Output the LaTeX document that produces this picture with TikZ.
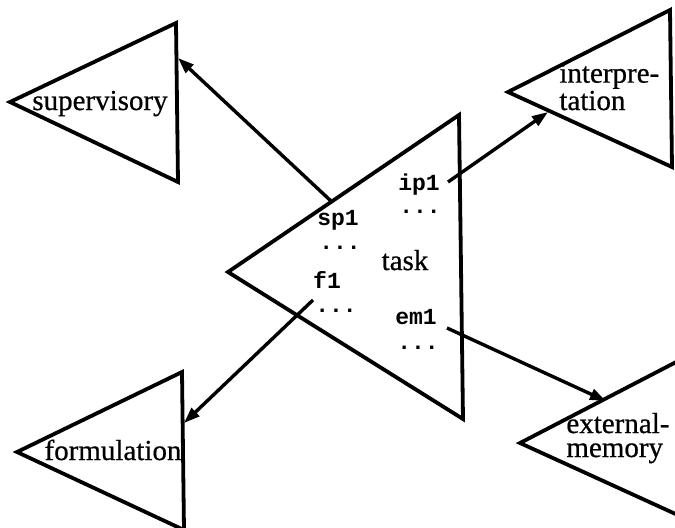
\documentclass[tikz,border=0pt]{standalone}
\usepackage{fontspec}
\setmainfont{Liberation Serif}
\setmonofont{Liberation Mono}
\newfontfamily\heavyserif[FakeBold=0.6]{Liberation Serif}
\usetikzlibrary{arrows.meta}
\begin{document}
\begin{tikzpicture}[x=0.5pt,y=-0.5pt,
  tri/.style={line width=1.9pt,line join=miter},
  conn/.style={line width=1.7pt,-{Triangle[length=8pt,width=5.5pt]}},
  lbl/.style={font=\heavyserif\fontsize{14.5}{12}\selectfont,inner sep=0pt},
  code/.style={font=\fontsize{11.5}{12}\selectfont\ttfamily\bfseries,inner sep=0pt,anchor=base}]
\useasboundingbox (0,0) rectangle (675,527);
% triangles
\draw[tri] (10,102) -- (176,23) -- (178,182) -- cycle;
\draw[tri] (508,92) -- (670,10) -- (672,167) -- cycle;
\draw[tri] (228,272) -- (459,115) -- (463,419) -- cycle;
\draw[tri] (17,452) -- (182,372) -- (184,530) -- cycle;
\draw[tri] (680,360) -- (520,443) -- (680,516);
% labels
\node[lbl,anchor=base] (sup) at (100,110) {supervisory};
\node[lbl,anchor=base west,align=left] (int) at (559,110) {interpre-\\tation};
\node[lbl,anchor=base] (task) at (405,270) {task};
\node[lbl,anchor=base] (form) at (113,460) {formulation};
\node[lbl,anchor=base west,align=left] (ext) at (566,457) {external-\\memory};
\node[code] (ip1) at (419,190) {ip1};
\node[code] (d1) at (420,213) {...};
\node[code] (sp1) at (338,225) {sp1};
\node[code] (d2) at (340,249) {...};
\node[code] (f1) at (327,288) {f1};
\node[code] (d3) at (336,312) {...};
\node[code] (em1) at (416,324) {em1};
\node[code] (d4) at (418,349) {...};
% connector endpoints
\coordinate (sps) at (331,201);
\coordinate (spe) at (178,58);
\coordinate (ips) at (448,182);
\coordinate (ipe) at (548,112);
\coordinate (fs) at (313,300);
\coordinate (fe) at (184,423);
\coordinate (ems) at (447,328);
\coordinate (eme) at (606,401);
\draw[conn] (sps) -- (spe);
\draw[conn] (ips) -- (ipe);
\draw[conn] (fs) -- (fe);
\draw[conn] (ems) -- (eme);
\end{tikzpicture}
\end{document}
